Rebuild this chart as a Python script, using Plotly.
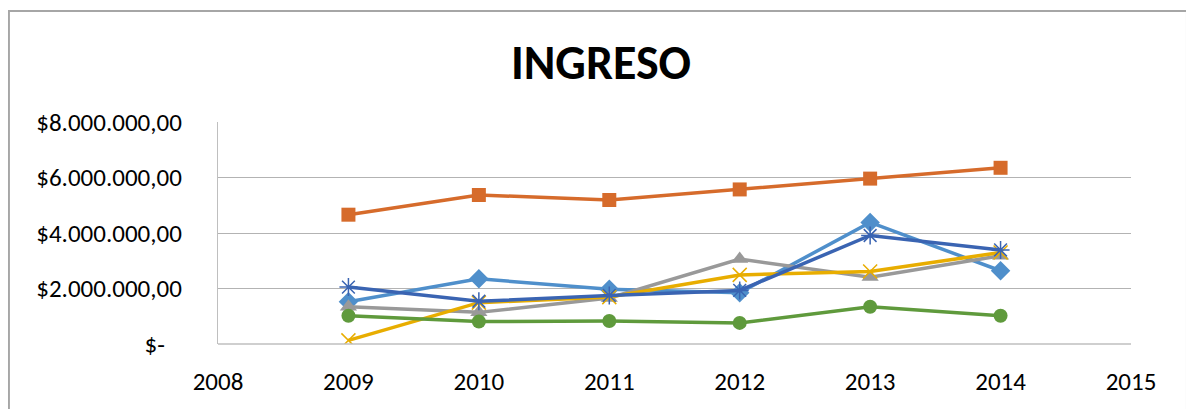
import plotly.graph_objects as go

years = [2009, 2010, 2011, 2012, 2013, 2014]
serie1 = [1520000, 2350000, 1970000, 1850000, 4380000, 2640000]   # light blue diamond
serie2 = [4660000, 5370000, 5190000, 5570000, 5960000, 6350000]   # orange square
serie3 = [1340000, 1140000, 1660000, 3060000, 2410000, 3180000]   # gray triangle
serie4 = [130000, 1490000, 1690000, 2490000, 2610000, 3300000]    # yellow x
serie5 = [2050000, 1540000, 1750000, 1930000, 3910000, 3390000]   # dark blue asterisk
serie6 = [1020000, 810000, 830000, 760000, 1340000, 1020000]      # green circle

names = ["Serie1", "Serie2", "Serie3", "Serie4", "Serie5", "Serie6"]
colors = ["#4F8FCB", "#D66B2B", "#999999", "#E8AD00", "#3A64B2", "#5F9A3C"]
symbols = ["diamond", "square", "triangle-up", "x-thin-open", "asterisk-open", "circle"]
sizes = [15, 14, 15, 14, 15, 14]

y_tickvals = [0, 2000000, 4000000, 6000000, 8000000]
y_ticktext = ["$-\u00a0\u00a0\u00a0", "$2.000.000,00", "$4.000.000,00", "$6.000.000,00", "$8.000.000,00"]
x_tickvals = [2008, 2009, 2010, 2011, 2012, 2013, 2014, 2015]

fig = go.Figure()
for name, vals, col, sym, sz in zip(names, [serie1, serie2, serie3, serie4, serie5, serie6], colors, symbols, sizes):
    thin = sym.endswith("-open")
    fig.add_trace(go.Scatter(
        x=years, y=vals, name=name, mode="lines+markers",
        line=dict(color=col, width=3.5),
        marker=dict(symbol=sym, size=sz, color=col,
                    line=dict(color=col, width=1.5 if thin else 0)),
    ))

font_family = "Carlito, Lato, 'Open Sans', sans-serif"

fig.update_layout(
    width=1186, height=401,
    margin=dict(l=210, r=63, t=114, b=62),
    paper_bgcolor="white", plot_bgcolor="white",
    showlegend=False,
    title=dict(text="<b>INGRESO</b>", x=0.5, xanchor="center", y=0.866, yanchor="middle",
               font=dict(family=font_family, size=48, color="black")),
    font=dict(family=font_family, size=25, color="black"),
    xaxis=dict(range=[2008, 2015], tickmode="array", tickvals=x_tickvals,
               showgrid=False, zeroline=False, showline=False,
               ticks="outside", ticklen=15, tickcolor="rgba(0,0,0,0)",
               tickfont=dict(size=25, color="black")),
    yaxis=dict(range=[0, 8000000], tickmode="array", tickvals=y_tickvals, ticktext=y_ticktext,
               showgrid=True, gridcolor="#B3B3B3", gridwidth=1.3, zeroline=False,
               showline=True, linecolor="#BFBFBF", linewidth=1.3,
               ticks="outside", ticklen=30, tickcolor="rgba(0,0,0,0)",
               tickfont=dict(size=25, color="black")),
    shapes=[dict(type="rect", xref="paper", yref="paper",
                 x0=-0.2290, x1=1.0613, y0=-0.4, y1=1.500,
                 line=dict(color="#A6A6A6", width=2), fillcolor="rgba(0,0,0,0)", layer="below"),
            dict(type="line", xref="paper", yref="paper", x0=0, x1=1, y0=0, y1=0,
                 line=dict(color="#BFBFBF", width=1.3))],
)

fig.write_html("out.html")
